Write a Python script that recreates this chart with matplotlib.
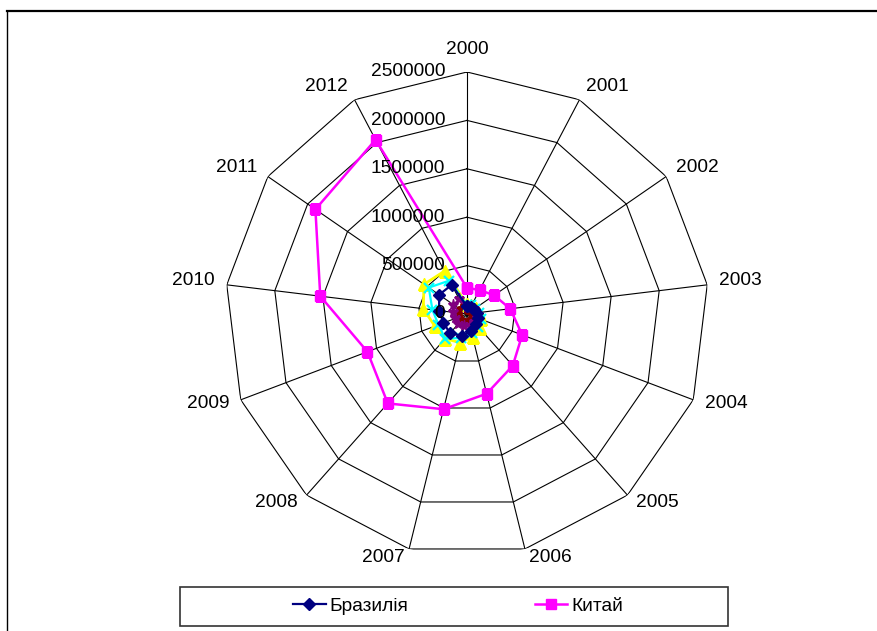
import numpy as np
import matplotlib
matplotlib.use('Agg')
import matplotlib.pyplot as plt
from matplotlib.patches import Rectangle
from matplotlib.lines import Line2D

plt.rcParams['font.family'] = ['Liberation Sans', 'DejaVu Sans']

years = [2000, 2001, 2002, 2003, 2004, 2005, 2006, 2007, 2008, 2009, 2010, 2011, 2012]
brazil = [80000, 80000, 90000, 100000, 120000, 140000, 180000, 230000, 265000, 260000, 290000, 350000, 340000]
china = [270000, 280000, 340000, 450000, 610000, 713000, 848000, 1013000, 1234000, 1100000, 1527000, 1903000, 2033000]
series3 = [100000, 100000, 110000, 120000, 150000, 200000, 240000, 305000, 340000, 355000, 455000, 540000, 500000]
series4 = [90000, 100000, 100000, 120000, 150000, 175000, 205000, 255000, 340000, 315000, 360000, 480000, 390000]
series5 = [70000, 75000, 85000, 95000, 105000, 110000, 120000, 125000, 140000, 130000, 150000, 170000, 175000]
series6 = [30000, 35000, 40000, 45000, 50000, 60000, 65000, 70000, 80000, 75000, 85000, 95000, 100000]
ring_values = [500000, 1000000, 1500000, 2000000, 2500000]
rmax = 2500000

W, H = 877, 631
cx, cy, R = 467, 314, 242
FS = 13.8

fig = plt.figure(figsize=(W / 100, H / 100), dpi=100)
ax = fig.add_axes([(cx - R) / W, 1 - (cy + R) / H, 2 * R / W, 2 * R / H], projection='polar')
ax.set_theta_zero_location('N')
ax.set_theta_direction(-1)
ax.set_axis_off()
ax.set_ylim(0, rmax)

n = len(years)
theta = np.arange(n) * 2 * np.pi / n
theta_c = np.r_[theta, theta[0]]

# polygon grid
for r in ring_values:
    ax.plot(theta_c, [r] * (n + 1), color='black', lw=0.8, zorder=1)
for t in theta:
    ax.plot([t, t], [0, rmax], color='black', lw=0.8, zorder=1)


def closed(vals):
    return np.r_[vals, vals[0]]


l_cn = ax.plot(theta_c, closed(china), color='#FF00FF', lw=1.8, marker='s', ms=7, label='Китай', zorder=3)[0]
ax.plot(theta_c, closed(series3), color='#FFFF00', lw=2, marker='^', ms=8, zorder=4)
ax.plot(theta_c, closed(series4), color='#00FFFF', lw=1.6, marker='x', ms=7, mew=1.6, zorder=5)
ax.plot(theta_c, closed(series6), color='#800000', lw=1.2, marker='o', ms=4, zorder=6)
ax.plot(theta_c, closed(series5), color='#800080', lw=1.2, marker='*', ms=8, zorder=7)
l_br = ax.plot(theta_c, closed(brazil), color='#000080', lw=1.6, marker='D', ms=6, label='Бразилія', zorder=8)[0]

# radial labels
for r in [0] + ring_values:
    ax.annotate(str(r), xy=(0, r), xytext=(-22, 0), textcoords='offset pixels',
                ha='right', va='center', fontsize=FS, annotation_clip=False, zorder=9)

# category labels
for t, y in zip(theta, years):
    s, c = np.sin(t), np.cos(t)
    if abs(s) < 0.2:
        ha, dx, dy = 'center', 0, 23
    else:
        ha = 'left' if s > 0 else 'right'
        dx = np.sign(s) * (2 + 10 * abs(s))
        dy = 3 + 11 * c if c >= 0 else 8 * c - 1
    ax.annotate(str(y), xy=(t, rmax), xytext=(dx, dy), textcoords='offset pixels',
                ha=ha, va='center', fontsize=FS, annotation_clip=False)

# legend
fig.legend(handles=[l_br, l_cn], loc='center', bbox_to_anchor=(458 / W, 1 - 606 / H),
           ncol=2, frameon=False, fontsize=FS, columnspacing=6.6,
           handlelength=1.7, handletextpad=0.2)
fig.add_artist(Rectangle((180 / W, 1 - 626 / H), 548 / W, 39 / H, transform=fig.transFigure,
                         fill=False, ec='#333333', lw=1.2))

# outer frame
fig.add_artist(Line2D([7 / W, 7 / W], [0, 1 - 11 / H], transform=fig.transFigure, color='black', lw=1))
fig.add_artist(Line2D([7 / W, 1], [1 - 11 / H, 1 - 11 / H], transform=fig.transFigure, color='black', lw=1.6))

fig.savefig('out.png', dpi=100)
